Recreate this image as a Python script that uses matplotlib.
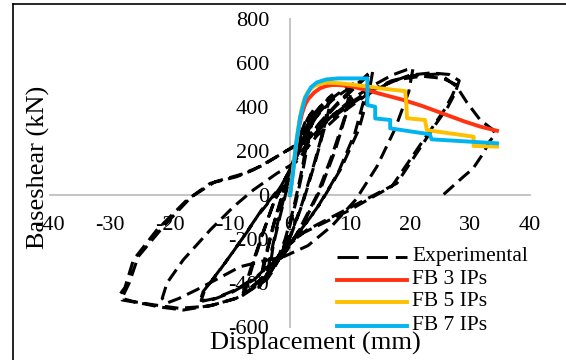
import numpy as np
import matplotlib
matplotlib.use("Agg")
import matplotlib.pyplot as plt
from matplotlib.lines import Line2D

plt.rcParams['font.family'] = ['Liberation Serif', 'DejaVu Serif']

# experimental hysteresis, read cycle by cycle (displacement mm, base shear kN)
cyc1_x = [0, 0.6, 1.4, 2.5, 3.5, 2.9, 1.8, 0.6, -0.8, -2.2, -3.5, -2.8, -1.6, -0.4]
cyc1_y = [0, 140, 250, 330, 370, 250, 90, -60, -200, -300, -360, -230, -90, 40]

cyc1b_x = [0.3, 1.0, 2.0, 3.0, 4.0, 3.3, 2.2, 1.0, -0.3, -1.6, -3.0, -4.0, -3.2, -2.0, -0.8]
cyc1b_y = [80, 190, 290, 350, 390, 280, 120, -30, -170, -280, -350, -390, -270, -120, 10]

cyc2_x = [0.8, 2.2, 4.0, 6.0, 7.0, 6.0, 4.2, 2.2, 0.2, -1.8, -3.5, -5.0, -4.0, -2.6, -1.0]
cyc2_y = [170, 280, 370, 430, 455, 330, 150, -30, -180, -290, -360, -410, -280, -120, 30]

cyc2b_x = [-0.5, 1.0, 3.0, 5.0, 6.5, 5.8, 4.0, 2.0, 0.0, -2.0, -4.0, -5.2, -4.3, -2.8, -1.2]
cyc2b_y = [60, 200, 320, 400, 440, 320, 140, -40, -190, -300, -380, -420, -300, -140, 0]

cyc3_x = [0.5, 2.5, 5.0, 7.5, 9.5, 10.5, 9.5, 7.5, 5.0, 2.0, -0.5, -3.0, -5.5, -7.5, -6.0, -4.2, -2.5]
cyc3_y = [130, 270, 380, 450, 490, 505, 380, 200, 20, -140, -250, -330, -400, -440, -300, -150, -20]

cyc3b_x = [0.0, 2.0, 4.5, 7.0, 9.0, 10.0, 9.2, 7.0, 4.5, 1.5, -1.0, -3.5, -6.0, -7.8, -6.5, -4.5, -2.8]
cyc3b_y = [100, 250, 360, 430, 470, 485, 360, 180, 0, -160, -270, -350, -410, -445, -330, -170, -40]

cyc4_x = [-0.5, 2.0, 5.0, 8.0, 11.0, 13.0, 13.8, 13.2, 11.5, 8.5, 5.0, 1.5, -2.0, -5.5, -9.0,
          -12.5, -15.0, -14.5, -12.8, -10.6, -8.0, -5.5, -2.0]
cyc4_y = [90, 220, 330, 420, 500, 550, 565, 470, 300, 120, -40, -170, -280, -370, -430,
          -470, -485, -440, -380, -300, -200, -99, 20]

cyc4b_x = [-1.0, 1.5, 4.5, 7.5, 10.5, 12.5, 13.2, 12.5, 10.8, 8.0, 4.5, 1.0, -2.5, -6.0, -9.5,
           -12.8, -14.8, -14.2, -12.2, -9.8, -7.2, -4.8, -1.5]
cyc4b_y = [60, 200, 310, 400, 480, 530, 545, 450, 280, 100, -60, -190, -300, -385, -440,
           -475, -480, -430, -360, -270, -170, -70, 40]

cyc5_x = [0.5, 3.5, 7.0, 10.5, 14.0, 17.0, 19.5, 20.5, 19.8, 17.5, 14.5, 11.0, 7.0, 3.0, -1.0,
          -4.5, -8.3, -12.0, -15.5, -18.5, -20.6, -21.3, -20.5, -17.8, -13.3, -9.4, -6.1, -2.2]
cyc5_y = [140, 260, 360, 440, 500, 545, 570, 575, 470, 300, 130, -20, -140, -230, -280,
          -300, -326, -380, -430, -470, -492, -470, -400, -295, -159, -53, 23, 98]

cyc6_x = [1.0, 4.5, 8.5, 12.5, 16.5, 20.0, 23.5, 26.5, 28.2, 27.5, 26.3, 24.4, 22.2, 17.8, 10.0,
          2.8, -1.0, -4.0, -8.3, -12.8, -17.8, -21.7, -25.0, -28.0, -28.3, -27.5, -26.1, -22.2,
          -17.2, -13.3, -8.9, -6.1, -1.7, 0.5]
cyc6_y = [150, 270, 370, 450, 510, 545, 555, 548, 520, 462, 400, 326, 235, 53, -57,
          -159, -240, -386, -464, -500, -523, -509, -491, -477, -450, -420, -295, -159,
          -23, 53, 83, 114, 182, 220]

cyc7_x = [2.5, 6.0, 10.0, 14.0, 18.0, 22.0, 25.5, 27.8, 27.0, 25.8, 23.8, 21.5, 17.0, 9.5, 2.0,
          -1.5, -4.8, -9.0, -13.5, -18.5, -22.5, -26.0, -28.0, -27.6, -26.8, -25.3, -21.0,
          -16.5, -12.5, -8.0, -4.5, -1.0]
cyc7_y = [240, 330, 410, 480, 525, 540, 530, 500, 450, 390, 310, 220, 40, -75, -175,
          -260, -400, -470, -505, -515, -500, -485, -470, -445, -400, -280, -140,
          -10, 60, 95, 135, 195]

cyc8_x = [1.5, 5.0, 9.0, 13.0, 17.0, 21.0, 25.0, 27.8, 29.5, 31.7, 33.9, 34.2, 33.3, 32.2,
          30.5, 28.9, 25.5]
cyc8_y = [230, 320, 400, 470, 520, 545, 550, 492, 420, 341, 295, 275, 245, 189,
          120, 83, 0]

# fibre-based models
fb3_x = [0, 0.5, 1.0, 1.5, 2.0, 2.5, 3.0, 4.0, 5.0, 6.0, 7.0, 8.0, 10.0, 12.8, 15.0, 18.9,
         22.0, 26.1, 29.0, 31.7, 34.5]
fb3_y = [0, 110, 220, 310, 370, 410, 435, 465, 485, 495, 500, 500, 495, 477, 460, 432,
         405, 364, 335, 311, 292]

fb5_x = [0, 0.5, 1.0, 1.5, 2.0, 2.5, 3.0, 4.0, 5.0, 6.0, 7.0, 9.0, 13.3, 15.0, 19.2, 19.4,
         19.5, 22.5, 22.8, 30.6, 30.6, 34.5]
fb5_y = [0, 110, 230, 330, 400, 445, 470, 495, 505, 510, 510, 506, 492, 485, 472, 410,
         349, 341, 295, 265, 223, 220]

fb7_x = [0, 0.5, 1.0, 1.7, 2.5, 3.5, 4.5, 6.0, 8.0, 12.9, 12.9, 14.2, 14.2, 16.7, 16.7,
         23.3, 23.6, 34.5]
fb7_y = [0, 100, 230, 355, 440, 490, 512, 525, 530, 530, 409, 401, 348, 341, 303,
         276, 253, 235]

x_ticks = [-40, -30, -20, -10, 0, 10, 20, 30, 40]
y_ticks = [-600, -400, -200, 0, 200, 400, 600, 800]

labels = ["Experimental", "FB 3 IPs", "FB 5 IPs", "FB 7 IPs"]
colors = ["black", "#FF3311", "#FFC000", "#00B4F0"]

W, H = 566, 360
fig = plt.figure(figsize=(W / 100, H / 100), dpi=100)
ax = fig.add_axes([50 / W, 33 / H, 480 / W, 308 / H])

exp_x = (cyc1_x + cyc1b_x + cyc2_x + cyc2b_x + cyc3_x + cyc3b_x + cyc4_x + cyc4b_x
         + cyc5_x + cyc6_x + cyc7_x + cyc8_x)
exp_y = (cyc1_y + cyc1b_y + cyc2_y + cyc2b_y + cyc3_y + cyc3b_y + cyc4_y + cyc4b_y
         + cyc5_y + cyc6_y + cyc7_y + cyc8_y)
ax.plot(exp_x, exp_y, color=colors[0], lw=2.2, dashes=(4.5, 2.2), solid_joinstyle='round')
ax.plot(fb3_x, fb3_y, color=colors[1], lw=2.8)
ax.plot(fb5_x, fb5_y, color=colors[2], lw=2.8)
ax.plot(fb7_x, fb7_y, color=colors[3], lw=2.8)

ax.set_xlim(-40, 40)
ax.set_ylim(-600, 800)
for s in ["top", "right"]:
    ax.spines[s].set_visible(False)
ax.spines["left"].set_position(("data", 0))
ax.spines["bottom"].set_position(("data", 0))
for s in ["left", "bottom"]:
    ax.spines[s].set_color("#BFBFBF")
    ax.spines[s].set_linewidth(1.3)
    ax.spines[s].set_zorder(0.5)
ax.set_xticks(x_ticks, [str(t) for t in x_ticks])
ax.set_yticks(y_ticks, [str(t) for t in y_ticks])
ax.tick_params(axis="x", length=0, pad=15, labelsize=16)
ax.tick_params(axis="y", length=0, pad=15, labelsize=16)
ax.patch.set_visible(False)

fig.text(315 / W, 1 - 343 / H, "Displacement (mm)", ha="center", va="center", fontsize=19)
fig.text(38 / W, 1 - 167 / H, "Baseshear (kN)", ha="center", va="center",
         rotation=90, fontsize=19)

# legend drawn by hand, Excel style
rows = [257, 280, 302, 326]
for lab, col, yy in zip(labels, colors, rows):
    yf = 1 - yy / H
    if lab == "Experimental":
        ln = Line2D([337 / W, 407 / W], [yf, yf], color=col, lw=2.1, dashes=(7.3, 2.7))
    else:
        ln = Line2D([337 / W, 407 / W], [yf, yf], color=col, lw=2.8)
    fig.add_artist(ln)
    fig.text(412 / W, yf, lab, ha="left", va="center", fontsize=15.5)

# chart area border (only left and top visible)
fig.add_artist(Line2D([13 / W, 13 / W], [0, 1 - 4 / H], color="black", lw=1.2))
fig.add_artist(Line2D([13 / W, 1], [1 - 4 / H, 1 - 4 / H], color="black", lw=1.2))

fig.savefig("out.png", dpi=100)
